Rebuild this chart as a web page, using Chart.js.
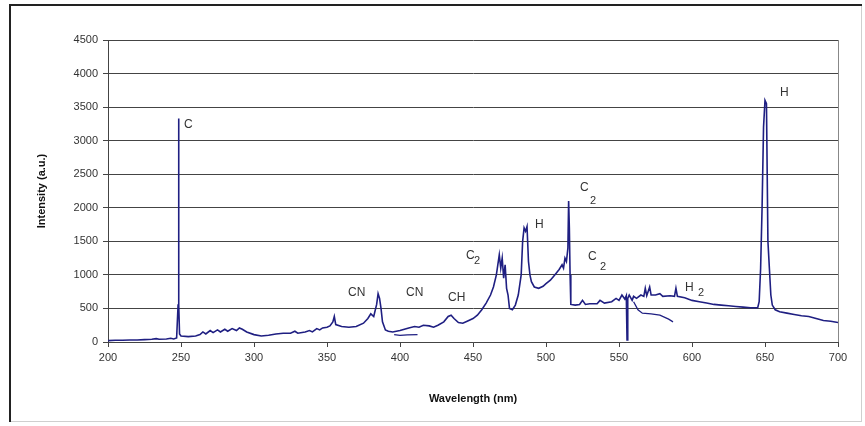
<!DOCTYPE html>
<html>
<head>
<meta charset="utf-8">
<script src="https://cdn.jsdelivr.net/npm/chart.js@4/dist/chart.umd.min.js"></script>
<style>
  html, body { margin: 0; padding: 0; background: #fff; }
  #wrap { width: 865px; height: 426px; }
</style>
</head>
<body>
<div id="wrap"><canvas id="spectrumChart" width="865" height="426"></canvas></div>
<script>
// main emission spectrum (nm, a.u.)
const wavelength = [
  200, 205, 210, 215, 220, 225, 230, 233, 235, 240, 243, 245, 247, 248, 248.3, 248.6, 249,
  250, 255, 260, 263, 265, 267, 270, 272, 275, 277, 280, 282, 285, 288, 290, 292, 295,
  300, 305, 310, 315, 320, 325, 328, 330, 335, 338, 340, 343, 345, 347, 350, 352, 354, 355, 356,
  360, 365, 370, 375, 378, 380, 382, 384, 385, 386, 387, 388, 390, 392, 395,
  400, 403, 406, 410, 413, 416, 420, 423, 426, 430, 433, 435, 437, 440, 443, 446,
  450, 453, 456, 459, 462, 464, 466, 467, 468, 469, 470, 471, 472, 473, 474, 475, 477, 479,
  481, 483, 484, 485, 486, 487, 488, 489, 490, 492, 495, 498,
  500, 503, 506, 509, 511, 512, 513, 514, 515, 515.5, 516, 516.5, 517,
  520, 523, 525, 527, 530, 535, 537, 540, 545, 548, 550, 552, 554, 555, 555.5, 556, 557, 559,
  560, 562, 565, 567, 568, 569, 571, 572, 575, 578, 580, 585, 588, 589, 590, 595,
  600, 605, 610, 615, 620, 625, 630, 635, 640, 645, 646, 647, 648, 649, 650, 651, 652, 653, 654, 655, 657,
  660, 665, 670, 675, 680, 685, 690, 695, 700
];
const intensity = [
  20, 25, 25, 30, 30, 35, 40, 50, 40, 45, 55, 45, 60, 550, 3330, 550, 120,
  90, 80, 90, 110, 150, 120, 170, 140, 180, 150, 190, 160, 200, 170, 210, 190, 150,
  110, 90, 100, 120, 130, 130, 160, 130, 150, 170, 150, 200, 180, 210, 220, 240, 300, 380, 260,
  230, 220, 230, 280, 350, 420, 380, 560, 720, 650, 500, 300, 180, 160, 150,
  170, 190, 210, 230, 220, 250, 240, 220, 250, 300, 380, 400, 350, 290, 280, 310,
  350, 400, 480, 580, 700, 820, 1000, 1150, 1300, 1100, 1250, 950, 1150, 800, 700, 500, 480, 550,
  700, 1000, 1500, 1700, 1650, 1720, 1200, 1000, 900, 820, 800, 830,
  870, 920, 1000, 1080, 1150, 1100, 1250, 1200, 1400, 2100, 1700, 1000, 560,
  550, 560, 620, 560, 570, 570, 620, 580, 600, 650, 620, 700, 640, 690, 30, 650, 700, 620,
  680, 650, 700, 680, 800, 690, 820, 700, 700, 720, 680, 690, 680, 800, 680, 660,
  620, 600, 580, 560, 550, 540, 530, 520, 510, 510, 600, 1100, 2000, 3200, 3600, 3550, 1500, 1100, 700, 550, 480,
  450, 430, 410, 390, 380, 350, 320, 310, 290
];

// overlapping low traces
const branchCN_wl = [396, 400, 405, 412];
const branchCN_int = [110, 100, 105, 110];
const branchH2_wl = [560, 563, 566, 572, 578, 584, 587];
const branchH2_int = [600, 480, 430, 420, 400, 340, 300];

const xTicks = [200, 250, 300, 350, 400, 450, 500, 550, 600, 650, 700];
const yTicks = [0, 500, 1000, 1500, 2000, 2500, 3000, 3500, 4000, 4500];

const peakLabels = [
  { text: "C", x: 252.1, y: 3233 },
  { text: "CN", x: 364.4, y: 730 },
  { text: "CN", x: 404.1, y: 730 },
  { text: "CH", x: 432.9, y: 656 },
  { text: "C", sub: "2", x: 445.2, y: 1281, dx: 8, dy: 5 },
  { text: "H", x: 492.5, y: 1743 },
  { text: "C", sub: "2", x: 523.3, y: 2295, dx: 10, dy: 13 },
  { text: "C", sub: "2", x: 528.8, y: 1266, dx: 12, dy: 10 },
  { text: "H", sub: "2", x: 595.2, y: 805, dx: 13, dy: 5 },
  { text: "H", x: 660.3, y: 3710 }
];

function toPoints(xs, ys) {
  return xs.map((v, i) => ({ x: v, y: ys[i] }));
}

const lineColor = "#1f1f82";

const framePlugin = {
  id: "frame",
  beforeDraw(chart) {
    const c = chart.ctx;
    c.save();
    c.fillStyle = "#fff";
    c.fillRect(0, 0, chart.width, chart.height);
    c.strokeStyle = "#cfcfcf";
    c.lineWidth = 1;
    c.strokeRect(10.5, 5.5, 851, 416);
    c.strokeStyle = "#222";
    c.lineWidth = 2;
    c.beginPath();
    c.moveTo(10, 422);
    c.lineTo(10, 5);
    c.lineTo(862, 5);
    c.stroke();
    c.restore();
  },
  afterDraw(chart) {
    const a = chart.chartArea;
    const c = chart.ctx;
    c.save();
    c.strokeStyle = "#888";
    c.lineWidth = 1;
    c.beginPath();
    c.moveTo(Math.round(a.right) + 0.5, a.top);
    c.lineTo(Math.round(a.right) + 0.5, a.bottom);
    c.stroke();
    c.restore();
  }
};

const labelPlugin = {
  id: "peakLabels",
  afterDatasetsDraw(chart) {
    const c = chart.ctx;
    const xs = chart.scales.x, ys = chart.scales.y;
    c.save();
    c.fillStyle = "#333";
    c.textAlign = "left";
    c.textBaseline = "middle";
    peakLabels.forEach(l => {
      const px = xs.getPixelForValue(l.x);
      const py = ys.getPixelForValue(l.y);
      c.font = "12px Arial, 'Liberation Sans', sans-serif";
      c.fillText(l.text, px, py);
      if (l.sub) {
        c.font = "11px Arial, 'Liberation Sans', sans-serif";
        c.fillText(l.sub, px + l.dx, py + l.dy);
      }
    });
    c.restore();
  }
};

const ctx = document.getElementById("spectrumChart").getContext("2d");
const spectrumChart = new Chart(ctx, {
  type: "scatter",
  data: {
    datasets: [
      {
        label: "Spectrum",
        data: toPoints(wavelength, intensity),
        showLine: true,
        borderColor: lineColor,
        borderWidth: 1.6,
        pointRadius: 0,
        tension: 0
      },
      {
        label: "CN trace",
        data: toPoints(branchCN_wl, branchCN_int),
        showLine: true,
        borderColor: lineColor,
        borderWidth: 1.3,
        pointRadius: 0
      },
      {
        label: "H2 trace",
        data: toPoints(branchH2_wl, branchH2_int),
        showLine: true,
        borderColor: lineColor,
        borderWidth: 1.3,
        pointRadius: 0
      }
    ]
  },
  options: {
    responsive: false,
    animation: false,
    layout: { padding: { left: 28, top: 40, right: 27, bottom: 20 } },
    scales: {
      x: {
        type: "linear",
        min: 200,
        max: 700,
        afterBuildTicks: s => { s.ticks = xTicks.map(v => ({ value: v })); },
        afterFit: s => { s.height = 64; },
        grid: { drawOnChartArea: false, drawTicks: true, tickLength: 5, color: "#444" },
        border: { color: "#444", width: 1 },
        ticks: {
          color: "#333",
          padding: 4,
          maxRotation: 0,
          callback: v => String(v),
          font: { family: "Arial, 'Liberation Sans', sans-serif", size: 11 }
        },
        title: {
          display: true,
          text: "Wavelength (nm)",
          color: "#111",
          padding: { top: 2, bottom: 0 },
          font: { family: "Arial, 'Liberation Sans', sans-serif", size: 11, weight: "bold" }
        }
      },
      y: {
        min: 0,
        max: 4500,
        afterBuildTicks: s => { s.ticks = yTicks.map(v => ({ value: v })); },
        afterFit: s => { s.width = 80; },
        grid: { color: "#444", lineWidth: 1, drawTicks: true, tickLength: 5 },
        border: { color: "#444", width: 1 },
        ticks: {
          color: "#333",
          padding: 5,
          callback: v => String(v),
          font: { family: "Arial, 'Liberation Sans', sans-serif", size: 11 }
        },
        title: {
          display: true,
          text: "Intensity (a.u.)",
          color: "#111",
          padding: { top: 7, bottom: 0 },
          font: { family: "Arial, 'Liberation Sans', sans-serif", size: 11, weight: "bold" }
        }
      }
    },
    plugins: {
      legend: { display: false },
      tooltip: { enabled: false }
    }
  },
  plugins: [framePlugin, labelPlugin]
});
</script>
</body>
</html>
